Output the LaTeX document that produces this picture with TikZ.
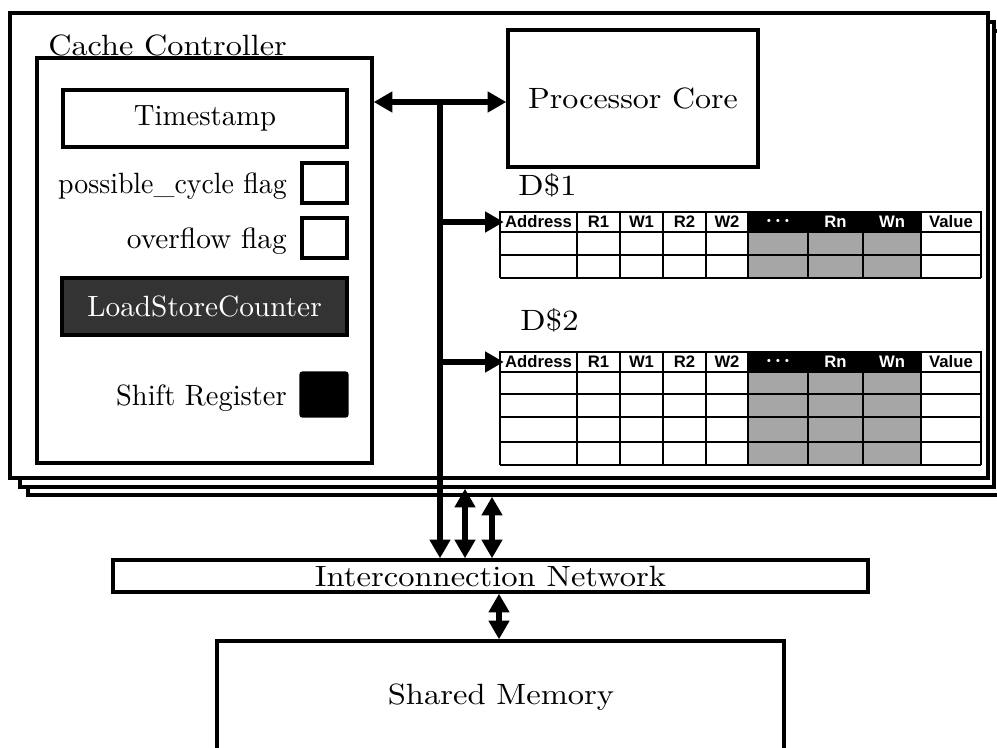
\documentclass[tikz,border=0pt]{standalone}
\usepackage{fontspec}
\setmainfont{lmroman10-regular}[Extension=.otf]
\newfontfamily\hdrfont{Liberation Sans}
\usetikzlibrary{arrows.meta,fit}
\definecolor{darkfill}{RGB}{51,51,51}
\definecolor{cellgray}{RGB}{166,166,166}
\newcommand{\hdots}{{\fontsize{8}{10}\selectfont •\hspace{4pt}•\hspace{4pt}•}}
\begin{document}
\begin{tikzpicture}[x=0.75pt,y=-0.75pt,
  every node/.style={font=\fontsize{22}{26}\selectfont},
  frame/.style={draw, line width=2.6pt, fill=white, inner sep=0pt},
  box/.style={draw, line width=2.6pt, fill=white, inner sep=0pt},
  txt/.style={inner sep=0pt, anchor=center},
  dbl/.style={line width=5pt, {Triangle[length=14pt,width=15pt]}-{Triangle[length=14pt,width=15pt]}},
  arr/.style={line width=5pt, -{Triangle[length=14pt,width=15pt]}},
  hcell/.style={draw, line width=1.9pt, inner sep=0pt},
  htext/.style={inner sep=0pt, font=\hdrfont\bfseries\fontsize{12.5}{14}\selectfont},
  hw/.style={fill=white},
  hk/.style={fill=black},
  grid/.style={line width=1.9pt},
]
\useasboundingbox (0,0) rectangle (997,747);
\fill[white] (0,0) rectangle (997,747);

% stacked frames
\node[frame, fit={(28,31)(1005,495)}] (f3) {};
\node[frame, fit={(20,22)(994,487)}] (f2) {};
\node[frame, fit={(10,13)(988,478)}] (f1) {};

% cache controller
\node[anchor=base west, inner sep=0pt] (cclabel) at (48,55) {\scalebox{1.1}[1]{Cache Controller}};
\node[box, fit={(37,58)(372,463)}] (cc) {};
\node[box, fit={(63,90)(347,147)}] (ts) {};
\node[txt] (tstext) at (ts.center) {\scalebox{0.98}[1]{Timestamp}};
\node[box, fit={(302,163)(347,203)}] (pcf) {};
\node[anchor=base east, inner sep=0pt] (pcflabel) at (287,193) {\scalebox{0.95}[1]{possible\_cycle flag}};
\node[box, fit={(302,218)(347,258)}] (ovf) {};
\node[anchor=base east, inner sep=0pt] (ovflabel) at (287,248) {overflow flag};
\node[box, fill=darkfill, fit={(62,278)(347,335)}] (lsc) {};
\node[txt, text=white] (lsctext) at (lsc.center) {LoadStoreCounter};
\node[box, fill=black, rounded corners=1.5pt, fit={(301,373)(347,416)}] (sr) {};
\node[anchor=base east, inner sep=0pt] (srlabel) at (287,405) {\scalebox{0.97}[1]{Shift Register}};

% processor core
\node[box, fit={(508,30)(758,167)}] (core) {};
\node[txt] (coretext) at (core.center) {\scalebox{1.09}[1]{Processor Core}};

% cache labels
\node[anchor=base west, inner sep=0pt] (d1) at (518,195) {\scalebox{1.13}[1]{D\$1}};
\node[anchor=base west, inner sep=0pt] (d2) at (520,330) {\scalebox{1.13}[1]{D\$2}};

% table 1
\fill[cellgray] (748,232) rectangle (921,278);
\foreach \yy in {232,255,278} \draw[grid] (500,\yy) -- (981,\yy);
\foreach \xx in {500,577,620,663,706,748,808,863,921,981} \draw[grid] (\xx,232) -- (\xx,278);
\foreach \xa/\xb/\txt/\kind/\tc [count=\i] in {500/577/Address/hw/black, 577/620/R1/hw/black, 620/663/W1/hw/black, 663/706/R2/hw/black, 706/748/W2/hw/black, 748/808/\hdots/hk/white, 808/863/Rn/hk/white, 863/921/Wn/hk/white, 921/981/Value/hw/black}
{
  \node[hcell, \kind, fit={(\xa,212)(\xb,232)}] (ta\i) {};
  \node[htext, text=\tc] (tat\i) at (ta\i.center) {\txt};
}

% table 2
\fill[cellgray] (748,372) rectangle (921,465);
\foreach \yy in {372,394,417,442,465} \draw[grid] (500,\yy) -- (981,\yy);
\foreach \xx in {500,577,620,663,706,748,808,863,921,981} \draw[grid] (\xx,372) -- (\xx,465);
\foreach \xa/\xb/\txt/\kind/\tc [count=\i] in {500/577/Address/hw/black, 577/620/R1/hw/black, 620/663/W1/hw/black, 663/706/R2/hw/black, 706/748/W2/hw/black, 748/808/\hdots/hk/white, 808/863/Rn/hk/white, 863/921/Wn/hk/white, 921/981/Value/hw/black}
{
  \node[hcell, \kind, fit={(\xa,352)(\xb,372)}] (tb\i) {};
  \node[htext, text=\tc] (tbt\i) at (tb\i.center) {\txt};
}

% network and memory
\node[box, fit={(113,560)(868,592)}] (net) {};
\node[txt] (nettext) at (net.center) {\scalebox{1.11}[1]{Interconnection Network}};
\node[box, fit={(217,641)(784,755)}] (mem) {};
\node[txt] (memtext) at (501,697) {\scalebox{1.11}[1]{Shared Memory}};

% bus
\coordinate (bustop) at (440,102);
\coordinate (bx2) at (465,0);
\coordinate (bx3) at (492,0);
\coordinate (bx4) at (499,0);
\draw[dbl] (cc.east |- bustop) -- (core.west |- bustop);
\draw[arr] ([yshift=2pt]bustop) -- (bustop |- net.north);
\draw[arr, shorten >=-3.75pt] (bustop |- ta1.west) -- (ta1.west);
\draw[arr, shorten >=-3.75pt] (bustop |- tb1.west) -- (tb1.west);
\draw[dbl] (f2.south -| bx2) -- (net.north -| bx2);
\draw[dbl] (f3.south -| bx3) -- (net.north -| bx3);
\draw[dbl] (net.south -| bx4) -- (mem.north -| bx4);
\end{tikzpicture}
\end{document}
